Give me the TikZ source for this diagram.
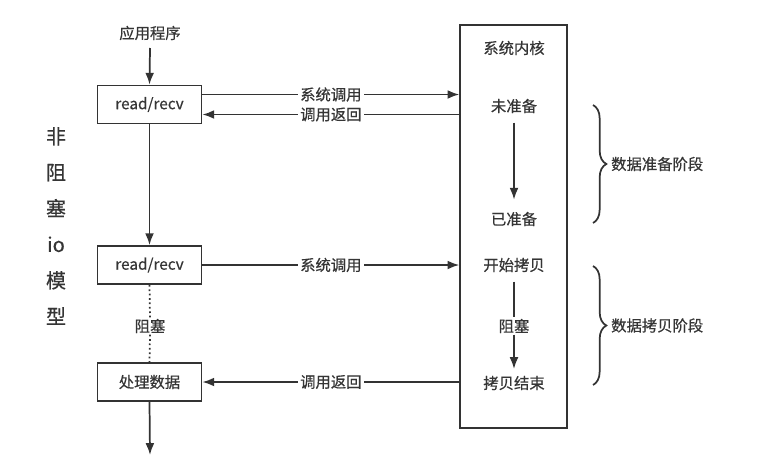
\documentclass[tikz,border=0pt]{standalone}
\usepackage{fontspec}
\setmainfont{Noto Sans CJK SC}[FakeBold=0.5]
\usetikzlibrary{positioning}
\usetikzlibrary{arrows.meta}
\usetikzlibrary{decorations.pathreplacing}
\definecolor{LINE-GRAY}{HTML}{333333}
\definecolor{TEXT-GRAY}{HTML}{353535}

\begin{document}
\begin{tikzpicture}[x=0.75pt,y=-0.75pt,every path/.style={>=Latex},
		line/.style={draw=LINE-GRAY,line width=1.3pt},
		callbox/.style={draw=LINE-GRAY,line width=1.3pt,minimum width=78pt,minimum height=28.5pt,inner sep=0pt,text=TEXT-GRAY},
		txt/.style={text=TEXT-GRAY,font=\fontsize{11.5}{13}\selectfont,inner sep=1pt},
		lbl/.style={txt,fill=white,inner sep=2pt},
		phase/.style={draw=LINE-GRAY,line width=1.3pt,decorate,decoration={brace,amplitude=10pt}}]
			\useasboundingbox (0,0) rectangle (762,468);

			% draw left side
			\node[txt] (app) at (150,33) {应用程序};
			\node[callbox,font=\fontsize{11.5}{13}\selectfont] (read1) at (149.5,104.5) {read/recv};
			\node[callbox,font=\fontsize{11.5}{13}\selectfont] (read2) at (149.5,265) {read/recv};
			\node[callbox,font=\fontsize{11.5}{13}\selectfont] (proc) at (149.5,382) {处理数据};
			\node[txt,fill=white] (block1) at (150,326) {阻塞};
			\coordinate (appin) at (150,48);
			\coordinate (out) at (150,455);
			\node[txt,font=\fontsize{15}{27}\selectfont,align=center] (model) at (56,226) {非\\阻\\塞\\io\\模\\型};

			% draw kernel
			\node[draw=LINE-GRAY,line width=1.3pt,minimum width=80pt,minimum height=302pt] (kernel) at (513.5,226.5) {};
			\node[txt] (ktitle) at (514,48) {系统内核};
			\node[txt] (notready) at (514,106) {未准备};
			\node[txt] (ready) at (514,219) {已准备};
			\node[txt] (cpstart) at (514,265) {开始拷贝};
			\node[txt] (block2) at (514,326) {阻塞};
			\node[txt] (cpend) at (514,383) {拷贝结束};

			% draw arrows
			\draw[line,->] (appin) to (read1.north);
			\draw[line,->] (read1.south) to (read2.north);
			\draw[line,dotted] (read2.south) to (block1.north);
			\draw[line,dotted] (block1.south) to (proc.north);
			\draw[line,->] (proc.south) to (out);
			\draw[line,->] ([yshift=7.5pt]read1.east) to node[lbl]{系统调用} ([yshift=7.5pt]read1.east -| kernel.west);
			\draw[line,<-] ([yshift=-7.5pt]read1.east) to node[lbl]{调用返回} ([yshift=-7.5pt]read1.east -| kernel.west);
			\draw[line,->] (read2.east) to node[lbl]{系统调用} (read2.east -| kernel.west);
			\draw[line,<-] (proc.east) to node[lbl]{调用返回} (proc.east -| kernel.west);
			\draw[line,->] ([yshift=-6pt]notready.south) to ([yshift=8pt]ready.north);
			\draw[line] (cpstart.south) ++(0,8) to (block2.north);
			\draw[line,->] (block2.south) to ([yshift=4pt]cpend.north);

			% draw braces
			\coordinate (prepA) at (593,105);
			\coordinate (prepB) at (593,223);
			\coordinate (copyA) at (593,266);
			\coordinate (copyB) at (593,385);
			\draw[phase] (prepA) to node[txt,right=12pt] (preplbl) {数据准备阶段} (prepB);
			\draw[phase] (copyA) to node[txt,right=12pt] (copylbl) {数据拷贝阶段} (copyB);
		\end{tikzpicture}
\end{document}
